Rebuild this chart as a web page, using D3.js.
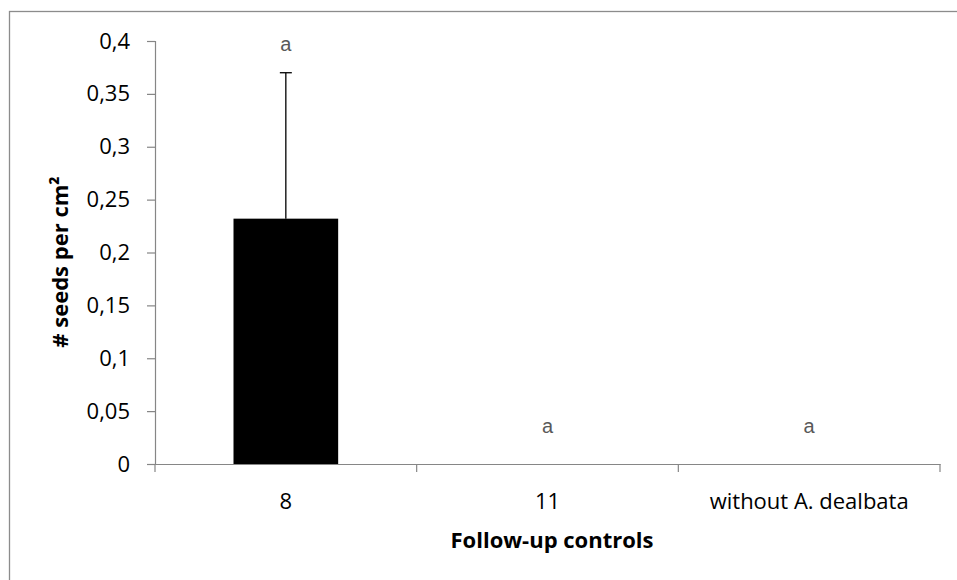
<!DOCTYPE html>
<html><head><meta charset="utf-8">
<script src="https://cdn.jsdelivr.net/npm/d3@7/dist/d3.min.js"></script>
<style>body{margin:0;background:#fff}svg{display:block}</style>
</head><body>
<svg id="c" width="957" height="580"></svg>
<script>
const categories = ["8", "11", "without A. dealbata"];
const means = [0.232, 0, 0];
const errors = [0.138, 0, 0];
const letters = ["a", "a", "a"];
const yTicks = [0, 0.05, 0.1, 0.15, 0.2, 0.25, 0.3, 0.35, 0.4];

const svg = d3.select("#c");
const m = {l: 155, r: 940, t: 41, b: 464};
const font = "'Open Sans', sans-serif";

// outer frame
svg.append("rect").attr("x", 9.5).attr("y", 11.5).attr("width", 1000).attr("height", 1000)
  .attr("fill", "none").attr("stroke", "#8c8c8c").attr("stroke-width", 1.3);

const x = d3.scaleBand().domain(categories).range([m.l, m.r]).paddingInner(0).paddingOuter(0);
const y = d3.scaleLinear().domain([0, 0.4]).range([m.b, m.t]);
const fmt = d => String(+d.toFixed(2)).replace(".", ",");

// y axis
const ya = svg.append("g").attr("transform", `translate(${m.l},0)`)
  .call(d3.axisLeft(y).tickValues(yTicks).tickFormat(fmt).tickSize(8).tickPadding(17));
ya.select(".domain").attr("stroke", "#868686").attr("stroke-width", 1.2);
ya.selectAll(".tick line").attr("stroke", "#868686").attr("stroke-width", 1.2);
ya.selectAll("text").attr("font-family", font).attr("font-size", 22).attr("fill", "#000");

// x axis
const xa = svg.append("g").attr("transform", `translate(0,${m.b})`)
  .call(d3.axisBottom(x).tickSize(0).tickPadding(29));
xa.select(".domain").attr("stroke", "#868686").attr("stroke-width", 1.2);
xa.selectAll("text").attr("font-family", font).attr("font-size", 22).attr("fill", "#000");
const bounds = categories.map(c => x(c)).concat([m.r]);
svg.append("g").selectAll("line").data(bounds).join("line")
  .attr("x1", d => d).attr("x2", d => d).attr("y1", m.b).attr("y2", m.b + 8)
  .attr("stroke", "#868686").attr("stroke-width", 1.2);

// bars
const bw = x.bandwidth() * 0.4;
const cx = c => x(c) + x.bandwidth() / 2;
svg.append("g").selectAll("rect").data(categories).join("rect")
  .attr("x", c => cx(c) - bw / 2).attr("width", bw)
  .attr("y", (c, i) => y(means[i])).attr("height", (c, i) => y(0) - y(means[i]))
  .attr("fill", "#000");

// error bars
const eb = svg.append("g").attr("stroke", "#000").attr("stroke-width", 1.3);
categories.forEach((c, i) => {
  if (errors[i] <= 0) return;
  const top = y(means[i] + errors[i]);
  eb.append("line").attr("x1", cx(c)).attr("x2", cx(c)).attr("y1", y(means[i])).attr("y2", top);
  eb.append("line").attr("x1", cx(c) - 6).attr("x2", cx(c) + 6).attr("y1", top).attr("y2", top);
});

// letters
svg.append("g").selectAll("text").data(categories).join("text")
  .attr("x", c => cx(c))
  .attr("y", (c, i) => y(means[i] + errors[i]) - (errors[i] > 0 ? 22 : 31))
  .attr("text-anchor", "middle").attr("font-family", "'Liberation Sans', Arial, sans-serif")
  .attr("font-size", 20).attr("fill", "#595959")
  .text((c, i) => letters[i]);

// axis titles
svg.append("text").attr("x", 552).attr("y", 548).attr("text-anchor", "middle")
  .attr("font-family", font).attr("font-weight", "bold").attr("font-size", 22).text("Follow-up controls");
svg.append("text").attr("transform", `translate(68,262) rotate(-90)`)
  .attr("text-anchor", "middle").attr("font-family", font).attr("font-weight", "bold").attr("font-size", 22)
  .text("# seeds per cm²");
</script>
</body></html>
